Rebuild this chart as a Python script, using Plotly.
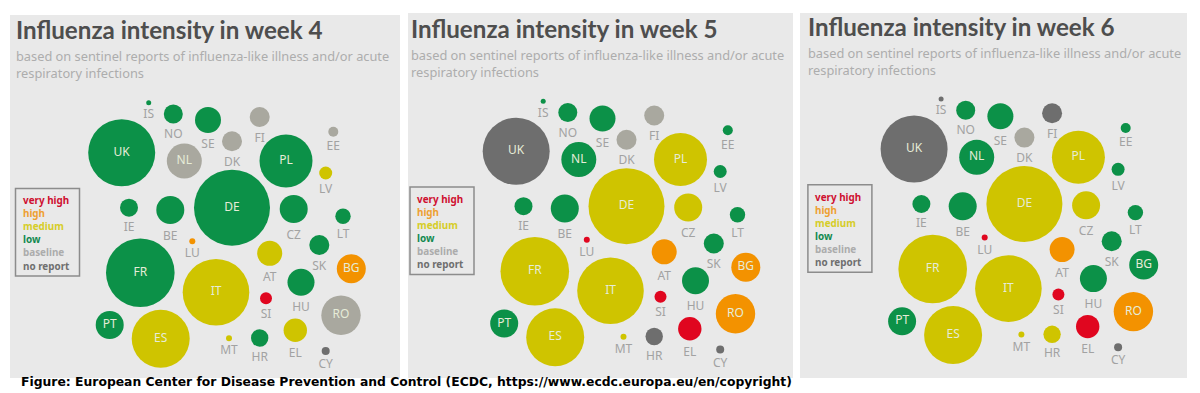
import plotly.graph_objects as go

WEEKS = [4, 5, 6]
COUNTRIES = ["IS","NO","SE","FI","UK","NL","DK","PL","EE","LV","DE","IE","BE","CZ","LT",
             "LU","SK","AT","BG","FR","IT","HU","SI","RO","PT","ES","MT","HR","EL","CY"]
COUNTRY_X = [148.7,173.3,208,259.7,121.7,184.3,232,286,333.3,325.7,232,129,170.3,293.7,343,
             192.3,319.3,269.7,351.3,140.3,216,301,266,341,109.7,160.7,229,259.7,295.3,325.7]
COUNTRY_Y = [102.7,114,120,117,152.7,161,141.3,161,131.7,173,207.7,207.7,210,209,216.3,
             241.3,245,253.3,268.7,272.7,292.3,282.3,298.3,315.3,325,338.7,338.3,338,330.3,351]
COUNTRY_R = [2.5,9.5,13,10,33.5,17.5,10,26.5,5,6.5,38,9,14,14,7.7,
             3,10,12.5,14.5,34.3,33.3,13.5,6,19.7,14,29,3,8.7,11.7,4]
INSIDE_LABELS = ["UK","NL","PL","DE","BG","FR","IT","RO","PT","ES"]

LEVELS = ["very high","high","medium","low","baseline","no report"]
WEEK4 = ["low","low","low","baseline","low","baseline","baseline","low","baseline","medium",
         "low","low","low","low","low","high","low","medium","high","low","medium","low",
         "very high","baseline","low","medium","medium","low","medium","no report"]
WEEK5 = ["low","low","low","baseline","no report","low","baseline","medium","low","low",
         "medium","low","low","medium","low","very high","low","high","high","medium","medium",
         "low","very high","high","low","medium","medium","no report","very high","no report"]
WEEK6 = ["no report","low","low","no report","no report","low","baseline","medium","low","low",
         "medium","low","low","medium","low","very high","low","high","low","medium","medium",
         "low","very high","high","low","medium","medium","medium","very high","no report"]
WEEK_LEVELS = [WEEK4, WEEK5, WEEK6]

FILL = {"very high":"#e0061f","high":"#f39200","medium":"#cfc400","low":"#0c9148",
        "baseline":"#a9a89f","no report":"#6e6e6e"}
LEGEND_TEXT = {"very high":"#cf1030","high":"#eea032","medium":"#d6cd28","low":"#128a50",
               "baseline":"#acacac","no report":"#6f6f6f"}

W, H = 1200, 393
PANELS = [(10,400,15,378,0,0),(408,793,13,378,394.5,-1.5),(800,1187,13,378,792.4,-3.7)]
SANS = "Noto Sans"
TITLE_FONT = "Lato"

fig = go.Figure()
layout = dict(width=W, height=H, margin=dict(l=0,r=0,t=0,b=0), paper_bgcolor="white",
              plot_bgcolor="#e9e9e9", showlegend=False)
annotations, shapes = [], []

outside = [c not in INSIDE_LABELS for c in COUNTRIES]

for i, (week, levels, panel) in enumerate(zip(WEEKS, WEEK_LEVELS, PANELS)):
    l, r, t, b, dx, dy = panel
    sx = "" if i == 0 else str(i+1)
    axis = dict(visible=False, showgrid=False, zeroline=False, fixedrange=True)
    layout["xaxis"+sx] = dict(axis, domain=[l/W, r/W], range=[l-dx, r-dx], anchor="y"+sx)
    layout["yaxis"+sx] = dict(axis, domain=[1-b/H, 1-t/H], range=[b-dy, t-dy], anchor="x"+sx)

    fig.add_trace(go.Scatter(
        x=COUNTRY_X, y=COUNTRY_Y, xaxis="x"+sx, yaxis="y"+sx, mode="markers+text",
        text=[c if c in INSIDE_LABELS else "" for c in COUNTRIES],
        textposition="middle center",
        textfont=dict(family=SANS, size=12, color="#e6ecd8"),
        marker=dict(size=[2*v for v in COUNTRY_R], color=[FILL[v] for v in levels],
                    line=dict(width=0), opacity=1),
        cliponaxis=False, hoverinfo="skip"))
    # outside labels hang under an invisible, slightly larger marker
    fig.add_trace(go.Scatter(
        x=[v for v, o in zip(COUNTRY_X, outside) if o],
        y=[v for v, o in zip(COUNTRY_Y, outside) if o],
        xaxis="x"+sx, yaxis="y"+sx, mode="markers+text",
        text=[c for c, o in zip(COUNTRIES, outside) if o],
        textposition="bottom center",
        textfont=dict(family=SANS, size=12, color="#a2a2a2"),
        marker=dict(size=[2*v+3.5 for v, o in zip(COUNTRY_R, outside) if o], opacity=0),
        cliponaxis=False, hoverinfo="skip"))

    ax = dict(xref="x"+sx, yref="y"+sx, showarrow=False, xanchor="left", yanchor="middle", align="left")
    annotations.append(dict(ax, x=14, y=30, text=f"<b>Influenza intensity in week {week}</b>",
                            font=dict(family=TITLE_FONT, size=24.2, color="#4e4e4e")))
    annotations.append(dict(ax, x=14, y=56.5, text="based on sentinel reports of influenza-like illness and/or acute",
                            font=dict(family=SANS, size=12.8, color="#adadad")))
    annotations.append(dict(ax, x=14, y=73.5, text="respiratory infections",
                            font=dict(family=SANS, size=12.8, color="#adadad")))
    shapes.append(dict(type="rect", xref="x"+sx, yref="y"+sx, x0=15.5, x1=79.5, y0=188.5, y1=276,
                       line=dict(color="#8c8c8c", width=1.5), fillcolor="rgba(0,0,0,0)"))
    for j, lev in enumerate(LEVELS):
        annotations.append(dict(ax, x=20.5, y=200.5+13*j, text=f"<b>{lev}</b>",
                                font=dict(family=SANS, size=9.9, color=LEGEND_TEXT[lev])))

annotations.append(dict(xref="paper", yref="paper", x=19/W, y=1-381.7/H, showarrow=False,
                        xanchor="left", yanchor="middle",
                        text="<b>Figure: European Center for Disease Prevention and Control (ECDC, https://www.ecdc.europa.eu/en/copyright)</b>",
                        font=dict(family="DejaVu Sans", size=12.36, color="#000000")))
layout["annotations"] = annotations
layout["shapes"] = shapes
fig.update_layout(**layout)
fig.write_html("out.html", config=dict(displayModeBar=False),
               post_script="document.body.style.margin='0';document.documentElement.style.overflow='hidden';")
